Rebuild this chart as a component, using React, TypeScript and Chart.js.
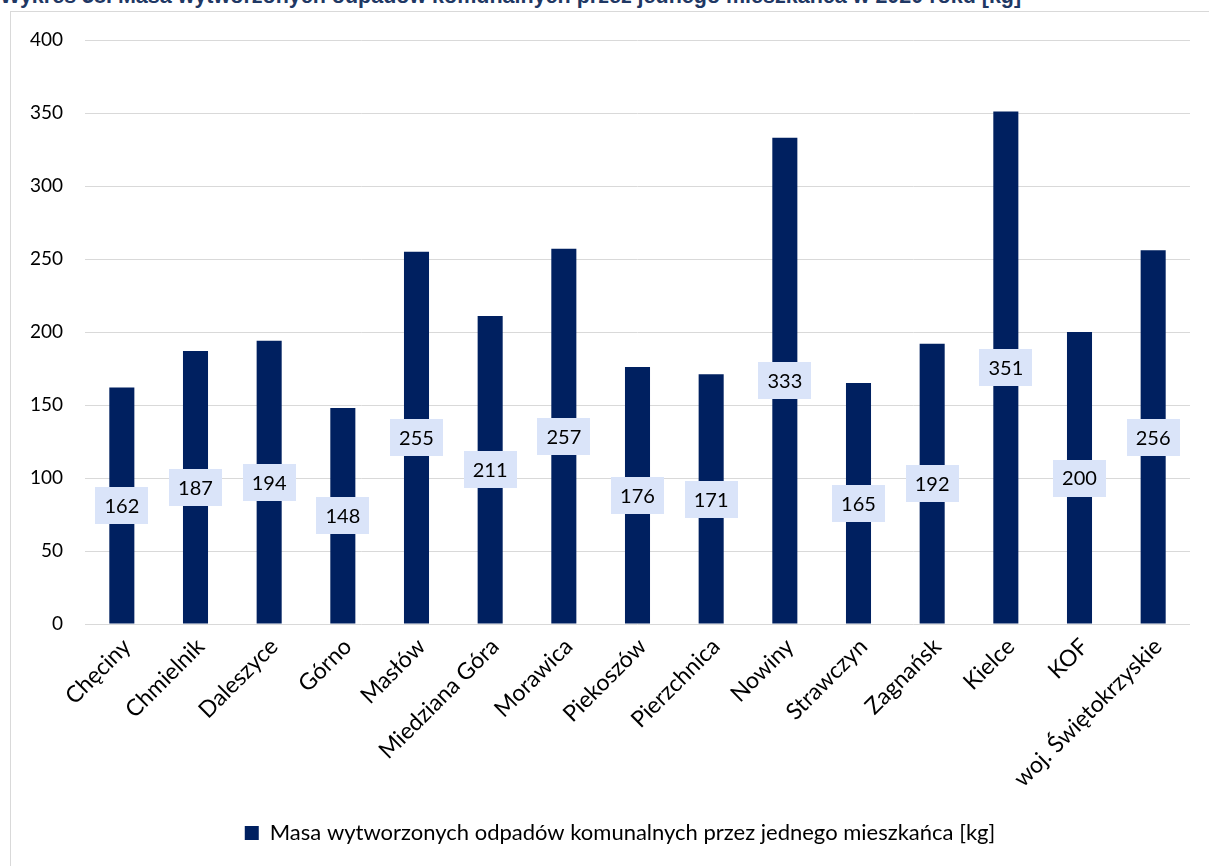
import React, { useEffect, useRef } from 'react';
import { Chart, registerables } from 'chart.js';

Chart.register(...registerables);

const titleText = 'Wykres 58. Masa wytworzonych odpadów komunalnych przez jednego mieszkańca w 2020 roku [kg]';
const seriesLabel = 'Masa wytworzonych odpadów komunalnych przez jednego mieszkańca [kg]';
const categories = [
  'Chęciny', 'Chmielnik', 'Daleszyce', 'Górno', 'Masłów', 'Miedziana Góra', 'Morawica',
  'Piekoszów', 'Pierzchnica', 'Nowiny', 'Strawczyn', 'Zagnańsk', 'Kielce', 'KOF', 'woj. Świętokrzyskie',
];
const values = [162, 187, 194, 148, 255, 211, 257, 176, 171, 333, 165, 192, 351, 200, 256];
const yMin = 0;
const yMax = 400;
const yStep = 50;

const BAR_COLOR = '#002060';
const LABEL_BG = '#DAE4F9';
const GRID = '#D9D9D9';
const FONT = 'Lato, "Open Sans", sans-serif';

const valueBoxes = {
  id: 'valueBoxes',
  afterDatasetsDraw(chart: any) {
    const ctx = chart.ctx;
    const meta = chart.getDatasetMeta(0);
    const yScale = chart.scales.y;
    ctx.save();
    ctx.font = `20px ${FONT}`;
    ctx.textAlign = 'center';
    ctx.textBaseline = 'middle';
    meta.data.forEach((bar: any, i: number) => {
      const v = chart.data.datasets[0].data[i];
      const text = String(v);
      const x = bar.x;
      const y = yScale.getPixelForValue(v / 2);
      const w = ctx.measureText(text).width + 18;
      const h = 37;
      ctx.fillStyle = LABEL_BG;
      ctx.fillRect(Math.round(x - w / 2), Math.round(y - h / 2), Math.round(w), h);
      ctx.fillStyle = '#000';
      ctx.fillText(text, x, y + 1);
    });
    ctx.restore();
  },
};

const shiftLegend = {
  id: 'shiftLegend',
  afterLayout(chart: any) {
    const lg = chart.legend;
    if (lg) {
      lg.left += 20;
      lg.right += 20;
    }
  },
};

export default function App() {
  const ref = useRef<HTMLCanvasElement | null>(null);

  useEffect(() => {
    if (!ref.current) return;
    const chart = new Chart(ref.current, {
      type: 'bar',
      data: {
        labels: categories,
        datasets: [
          {
            label: seriesLabel,
            data: values,
            backgroundColor: BAR_COLOR,
            borderWidth: 0,
            categoryPercentage: 1,
            barPercentage: 0.34,
          },
        ],
      },
      options: {
        responsive: false,
        animation: false,
        layout: { padding: { left: 0, right: 19, top: 29, bottom: 12 } },
        plugins: {
          legend: {
            position: 'bottom',
            labels: {
              font: { family: FONT, size: 22 },
              color: '#000',
              boxWidth: 14,
              boxHeight: 14,
              padding: 10,
            },
          },
          tooltip: { enabled: false },
        },
        scales: {
          x: {
            grid: { display: false },
            border: { display: false },
            ticks: {
              color: '#000',
              font: { family: FONT, size: 23 },
              minRotation: 45,
              maxRotation: 45,
              autoSkip: false,
              padding: 1,
              labelOffset: 5,
            },
            afterFit(scale: any) {
              scale.height = 188;
            },
          },
          y: {
            min: yMin,
            max: yMax,
            grid: { color: GRID, lineWidth: 1, drawTicks: false },
            border: { display: false },
            ticks: {
              stepSize: yStep,
              color: '#000',
              font: { family: FONT, size: 19, lineHeight: 0.6 },
              padding: 22,
            },
            afterFit(scale: any) {
              scale.width = 75;
            },
          },
        },
      },
      plugins: [valueBoxes, shiftLegend],
    });
    return () => chart.destroy();
  }, []);

  return (
    <div
      style={{
        position: 'fixed',
        left: 0,
        top: 0,
        width: 1209,
        height: 866,
        overflow: 'hidden',
        background: '#fff',
      }}
    >
      <div
        style={{
          position: 'absolute',
          left: 0,
          top: -14,
          whiteSpace: 'nowrap',
          fontFamily: '"Liberation Sans Narrow", "Liberation Sans", Arial, sans-serif',
          fontWeight: 'bold',
          fontSize: 21.5,
          lineHeight: '21.5px',
          color: '#1F3864',
        }}
      >
        {titleText}
      </div>
      <div
        style={{
          position: 'absolute',
          left: 10,
          top: 11,
          width: 1220,
          height: 880,
          border: '1px solid #D9D9D9',
          boxSizing: 'border-box',
        }}
      />
      <canvas
        ref={ref}
        width={1199}
        height={855}
        style={{ position: 'absolute', left: 10, top: 11, width: 1199, height: 855 }}
      />
    </div>
  );
}
